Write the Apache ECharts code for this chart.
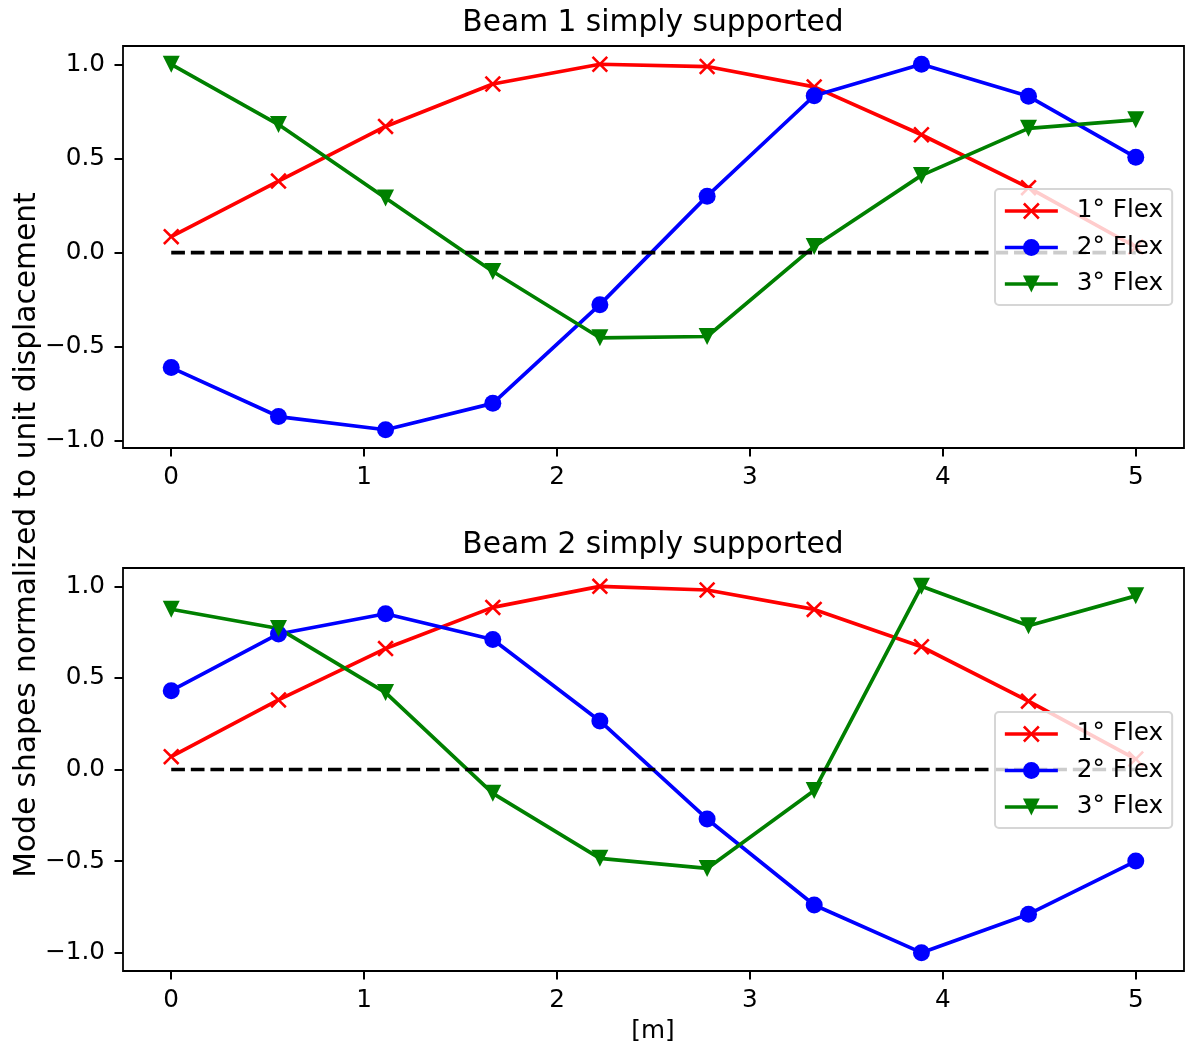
<!DOCTYPE html>
<html>
<head>
<meta charset="utf-8">
<script src="https://cdn.jsdelivr.net/npm/echarts@6/dist/echarts.min.js"></script>
<style>
html,body{margin:0;padding:0;background:#fff;}
#chart{width:1185px;height:1057px;}
</style>
</head>
<body>
<div id="chart"></div>
<script>
// ---- data ----
var xPositions = [0, 0.556, 1.111, 1.667, 2.222, 2.778, 3.333, 3.889, 4.444, 5];
var seriesNames = ['1° Flex', '2° Flex', '3° Flex'];
var titles = ['Beam 1 simply supported', 'Beam 2 simply supported'];

var beam1Flex1 = [0.085, 0.38, 0.67, 0.895, 1.0, 0.988, 0.88, 0.626, 0.345, 0.03];
var beam1Flex2 = [-0.61, -0.87, -0.94, -0.80, -0.276, 0.30, 0.833, 1.0, 0.83, 0.506];
var beam1Flex3 = [1.0, 0.68, 0.29, -0.10, -0.452, -0.445, 0.033, 0.41, 0.66, 0.705];

var beam2Flex1 = [0.07, 0.38, 0.66, 0.885, 1.0, 0.98, 0.874, 0.67, 0.373, 0.057];
var beam2Flex2 = [0.43, 0.74, 0.85, 0.71, 0.265, -0.27, -0.74, -1.0, -0.79, -0.50];
var beam2Flex3 = [0.875, 0.77, 0.42, -0.13, -0.485, -0.54, -0.115, 1.0, 0.785, 0.948];

var zeroLineX = [0, 5];
var zeroLineY = [0, 0];

var xTicks = [0, 1, 2, 3, 4, 5];
var yTicks = [-1.0, -0.5, 0.0, 0.5, 1.0];
var yLabel = 'Mode shapes normalized to unit displacement';
var xLabel = '[m]';

// ---- styling ----
var FONT = 'DejaVu Sans';
var FS_TICK = 24.7;
var FS_TITLE = 29.7;
var colors = ['#ff0000', '#0000ff', '#008000'];
var xSymbol = 'path://M0,1.1L1.1,0L5,3.9L8.9,0L10,1.1L6.1,5L10,8.9L8.9,10L5,6.1L1.1,10L0,8.9L3.9,5Z';
var symbols = [xSymbol, 'circle', 'triangle'];
var rotates = [0, 0, 180];
var symSizes = [16.5, 17, 17];

function pairs(xs, ys) {
  return xs.map(function (x, i) { return [x, ys[i]]; });
}

var grids = [
  {left: 123, right: 1, top: 46, height: 402},
  {left: 123, right: 1, top: 568, height: 403}
];
var yRanges = [[-1.037, 1.097], [-1.1, 1.1]];
var beamData = [[beam1Flex1, beam1Flex2, beam1Flex3], [beam2Flex1, beam2Flex2, beam2Flex3]];

function fmtY(v) {
  var s = Math.abs(v).toFixed(1);
  return v < 0 ? '\u2212' + s : s;
}

var option = {
  animation: false,
  backgroundColor: '#ffffff',
  textStyle: {fontFamily: FONT},
  grid: grids.map(function (g) {
    return Object.assign({show: true, borderColor: '#000', borderWidth: 1.8, backgroundColor: 'transparent'}, g);
  }),
  xAxis: [0, 1].map(function (i) {
    return {
      type: 'value', gridIndex: i, min: -0.25, max: 5.25,
      splitLine: {show: false},
      axisLine: {show: false, onZero: false},
      axisTick: {show: true, inside: false, length: 8.5, lineStyle: {color: '#000', width: 2}, customValues: xTicks},
      axisLabel: {show: true, color: '#000', fontSize: FS_TICK, fontFamily: FONT, margin: 17, customValues: xTicks,
        formatter: function (v) { return String(Math.round(v)); }}
    };
  }),
  yAxis: [0, 1].map(function (i) {
    return {
      type: 'value', gridIndex: i, min: yRanges[i][0], max: yRanges[i][1],
      splitLine: {show: false},
      axisLine: {show: false, onZero: false},
      axisTick: {show: true, inside: false, length: 8.5, lineStyle: {color: '#000', width: 2}, customValues: yTicks},
      axisLabel: {show: true, color: '#000', fontSize: FS_TICK, fontFamily: FONT, margin: 18, customValues: yTicks,
        formatter: fmtY}
    };
  }),
  legend: [0, 1].map(function (i) {
    return {
      data: seriesNames,
      orient: 'vertical',
      left: 995,
      top: i === 0 ? 189 : 712,
      padding: [9, 9, 8, 8],
      itemWidth: 53,
      itemHeight: 21,
      itemGap: 10.5,
      backgroundColor: 'rgba(255,255,255,0.8)',
      borderColor: '#d6d6d6',
      borderWidth: 2,
      borderRadius: 4,
      selectedMode: false,
      lineStyle: {width: 3.7},
      textStyle: {fontSize: FS_TICK, fontFamily: FONT, color: '#000', lineHeight: 26, padding: [0, 0, 0, 14]}
    };
  }),
  graphic: [
    {type: 'text', x: 653, y: 23, style: {text: titles[0], font: FS_TITLE + 'px "' + FONT + '"', fill: '#000', align: 'center', verticalAlign: 'middle'}},
    {type: 'text', x: 653, y: 545, style: {text: titles[1], font: FS_TITLE + 'px "' + FONT + '"', fill: '#000', align: 'center', verticalAlign: 'middle'}},
    {type: 'text', x: 653, y: 1032, style: {text: xLabel, font: FS_TICK + 'px "' + FONT + '"', fill: '#000', align: 'center', verticalAlign: 'middle'}},
    {type: 'text', x: 27, y: 535, rotation: Math.PI / 2, style: {text: yLabel, font: FS_TITLE + 'px "' + FONT + '"', fill: '#000', align: 'center', verticalAlign: 'middle'}}
  ],
  series: []
};

[0, 1].forEach(function (g) {
  beamData[g].forEach(function (ys, k) {
    option.series.push({
      type: 'line', name: seriesNames[k], xAxisIndex: g, yAxisIndex: g,
      data: pairs(xPositions, ys),
      symbol: symbols[k], symbolSize: symSizes[k], symbolRotate: rotates[k],
      showSymbol: true,
      lineStyle: {color: colors[k], width: 3.7},
      itemStyle: {color: colors[k], borderWidth: 0},
      emphasis: {disabled: true},
      z: 2
    });
  });
  option.series.push({
    type: 'line', name: 'zero', xAxisIndex: g, yAxisIndex: g,
    data: pairs(zeroLineX, zeroLineY),
    symbol: 'none',
    lineStyle: {color: '#000', width: 3.7, type: [13.7, 5.9]},
    emphasis: {disabled: true},
    z: 2
  });
});

var chart = echarts.init(document.getElementById('chart'), null, {renderer: 'canvas'});
chart.setOption(option);
</script>
</body>
</html>
